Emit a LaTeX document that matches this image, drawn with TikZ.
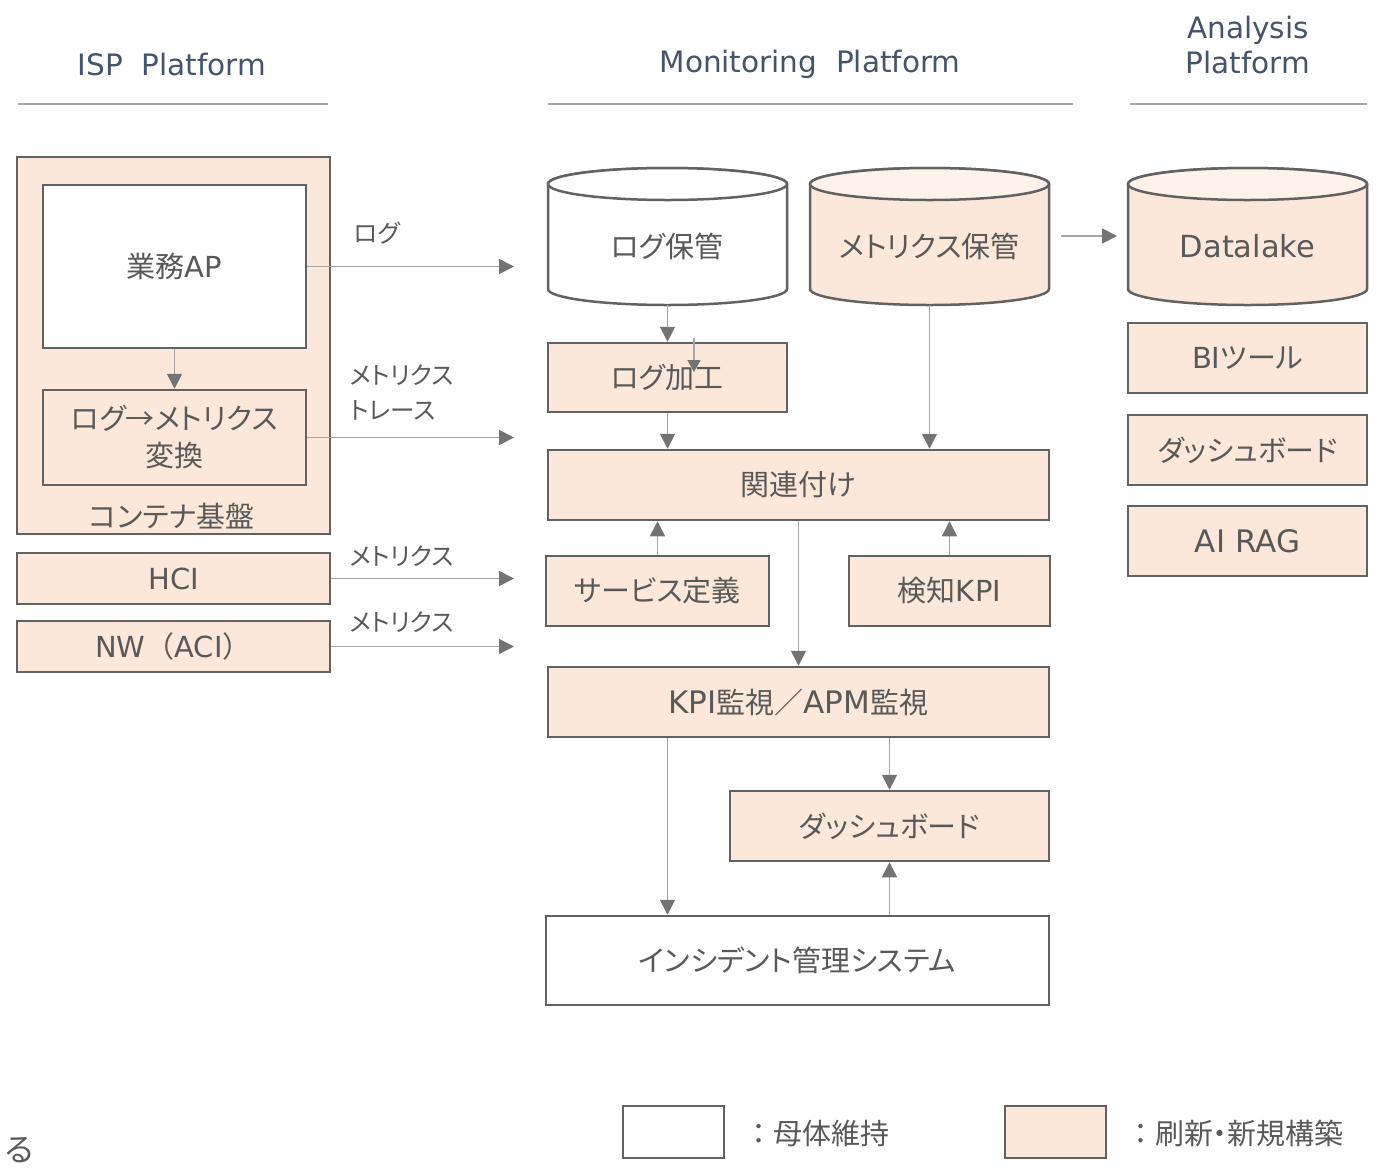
\documentclass[tikz,border=0pt]{standalone}
\usepackage{fontspec}
\newfontfamily\jp{Noto Sans CJK JP}[RawFeature={+palt}]
\newfontfamily\jpf{Noto Sans CJK JP}
\newfontfamily\vd{DejaVu Sans}
\newcommand\latn[1]{{\vd #1}}
\usetikzlibrary{arrows.meta}
\definecolor{peach}{HTML}{FCE8DA}
\definecolor{peachlt}{HTML}{FEF2EA}
\definecolor{bord}{HTML}{626262}
\definecolor{txt}{HTML}{595959}
\definecolor{hdr}{HTML}{44546A}
\definecolor{arrln}{HTML}{A6A6A6}
\definecolor{arrtip}{HTML}{737373}
\definecolor{rulec}{HTML}{A6A6A6}
\begin{document}
\begin{tikzpicture}[x=1pt,y=-1pt,
  box/.style={draw=bord, line width=2.5pt, fill=peach, text=txt, font=\jp\fontsize{29}{37}\selectfont, inner sep=0pt, align=center},
  wbox/.style={box, fill=white},
  arr/.style={draw=arrln, line width=1.8pt, -{Triangle[length=15pt,width=15pt,color=arrtip]}},
  hd/.style={text=hdr, font=\vd\fontsize{29.5}{35}\selectfont, align=center},
  lbl/.style={text=txt, font=\jp\fontsize{24.5}{35}\selectfont, align=left, anchor=west, inner sep=0pt},
  leg/.style={text=txt, font=\jpf\fontsize{29}{35}\selectfont, anchor=west, inner sep=0pt},
  ctext/.style={text=txt, font=\jp\fontsize{29}{37}\selectfont, inner sep=0pt},
  hrule/.style={draw=rulec, line width=1.5pt},
  cylbody/.style={draw=bord, line width=2.5pt}]
\useasboundingbox (0,0) rectangle (1385,1168);

% headers
\node[hd] (h1) at (172,64) {ISP\ \ Platform};
\node[hd] (h2) at (810,64) {Monitoring\ \ Platform};
\node[hd] (h3) at (1248,45) {Analysis\\Platform};
\draw[hrule] (18,104) -- (328,104);
\draw[hrule] (548,104) -- (1073,104);
\draw[hrule] (1130,104) -- (1367,104);

% ISP platform
\node[box, minimum width=313pt, minimum height=377pt] (cont) at (173.5,345.5) {};
\node[ctext] (contlbl) at (172,516) {コンテナ基盤};
\node[wbox, minimum width=263pt, minimum height=163pt] (app) at (174.5,266.5) {業務\latn{AP}};
\node[box, minimum width=263pt, minimum height=95pt] (conv) at (174.5,437.5) {ログ→メトリクス\\変換};
\node[box, minimum width=313pt, minimum height=51pt] (hci) at (173.5,578.5) {\latn{HCI}};
\node[box, minimum width=313pt, minimum height=51pt] (nw) at (173.5,646.5) {\latn{NW}{\jpf （}\latn{ACI}{\jpf ）}};

\coordinate (e1) at (514,266.5);
\coordinate (e2) at (514,437.5);
\coordinate (e3) at (514,578.5);
\coordinate (e4) at (514,646.5);
\draw[arr] (app.south) -- (conv.north);
\draw[arr] (app.east) -- (e1);
\draw[arr] (conv.east) -- (e2);
\draw[arr] (hci.east) -- (e3);
\draw[arr] (nw.east) -- (e4);
\node[lbl] (l1) at (354,233) {ログ};
\node[lbl] (l2) at (350,392) {メトリクス\\トレース};
\node[lbl] (l3) at (350,556) {メトリクス};
\node[lbl] (l4) at (350,622) {メトリクス};

% cylinders
\filldraw[cylbody, fill=white] (548,184) -- (548,289) arc[start angle=180, end angle=360, x radius=119.5pt, y radius=16pt] -- (787,184) arc[start angle=0, end angle=180, x radius=119.5pt, y radius=16pt] -- cycle;
\filldraw[cylbody, fill=white] (667.5,184) ellipse[x radius=119.5pt, y radius=16pt];
\node[ctext] (logst) at (667.5,246) {ログ保管};

\filldraw[cylbody, fill=peach] (810,184) -- (810,289) arc[start angle=180, end angle=360, x radius=119.5pt, y radius=16pt] -- (1049,184) arc[start angle=0, end angle=180, x radius=119.5pt, y radius=16pt] -- cycle;
\filldraw[cylbody, fill=peachlt] (929.5,184) ellipse[x radius=119.5pt, y radius=16pt];
\node[ctext] (metst) at (929.5,246) {メトリクス保管};

\filldraw[cylbody, fill=peach] (1128,184) -- (1128,289) arc[start angle=180, end angle=360, x radius=119.5pt, y radius=16pt] -- (1367,184) arc[start angle=0, end angle=180, x radius=119.5pt, y radius=16pt] -- cycle;
\filldraw[cylbody, fill=peachlt] (1247.5,184) ellipse[x radius=119.5pt, y radius=16pt];
\node[text=txt, font=\vd\fontsize{30.5}{34}\selectfont] (dl) at (1247.5,246) {Datalake};

\coordinate (logstb) at (667.5,305);
\coordinate (metstb) at (929.5,305);
\coordinate (dla) at (1061,236);
\coordinate (dlb) at (1117,236);
\coordinate (c667) at (667.5,0);

% monitoring boxes
\node[box, minimum width=239pt, minimum height=69pt] (proc) at (667.5,377.5) {ログ加工};
\node[box, minimum width=501pt, minimum height=70pt] (rel) at (798.5,485) {関連付け};
\node[box, minimum width=223pt, minimum height=70pt] (svc) at (657.5,591) {サービス定義};
\node[box, minimum width=201pt, minimum height=70pt] (det) at (949.5,591) {検知\latn{KPI}};
\node[box, minimum width=501pt, minimum height=70pt] (kpi) at (798.5,702) {{\vd\fontsize{31}{37}\selectfont KPI}監視{\jpf ／}{\vd\fontsize{31}{37}\selectfont APM}監視};
\node[box, minimum width=319pt, minimum height=70pt] (dash) at (889.5,826) {ダッシュボード};
\node[wbox, minimum width=503pt, minimum height=89pt] (inc) at (797.5,960.5) {インシデント管理システム};

% analysis boxes
\node[box, minimum width=239pt, minimum height=70pt] (bi) at (1247.5,358) {\latn{BI}ツール};
\node[box, minimum width=239pt, minimum height=70pt] (dash2) at (1247.5,450) {ダッシュボード};
\node[box, minimum width=239pt, minimum height=70pt, font=\vd\fontsize{31}{34}\selectfont] (rag) at (1247.5,541) {AI RAG};

% connectors
\draw[arr] (logstb) -- (proc.north);
\coordinate (s1) at (694,338);
\coordinate (s2) at (694,372);
\draw[draw=arrln, line width=1.6pt, -{Triangle[length=12pt,width=13pt,color=arrtip]}] (s1) -- (s2);
\draw[arr] (proc.south) -- (proc.south |- rel.north);
\draw[arr] (metstb) -- (metstb |- rel.north);
\draw[arr] (dla) -- (dlb);
\draw[arr] (svc.north) -- (svc.north |- rel.south);
\draw[arr] (det.north) -- (det.north |- rel.south);
\draw[arr] (rel.south) -- (kpi.north);
\draw[arr] (kpi.south -| dash.north) -- (dash.north);
\draw[arr] (kpi.south -| c667) -- (inc.north -| c667);
\draw[arr] (inc.north -| dash.south) -- (dash.south);

% legend
\node[wbox, minimum width=101pt, minimum height=52pt] (lg1) at (673.5,1132) {};
\node[leg] (lg1t) at (744,1133) {：母体維持};
\node[box, minimum width=101pt, minimum height=52pt] (lg2) at (1055.5,1132) {};
\node[leg] (lg2t) at (1126,1133) {：{\jp 刷新・新規構築}};
\node[text=txt, font=\jp\fontsize{32}{36}\selectfont, anchor=east, inner sep=0pt] (ru) at (34,1150) {る};
\end{tikzpicture}
\end{document}
